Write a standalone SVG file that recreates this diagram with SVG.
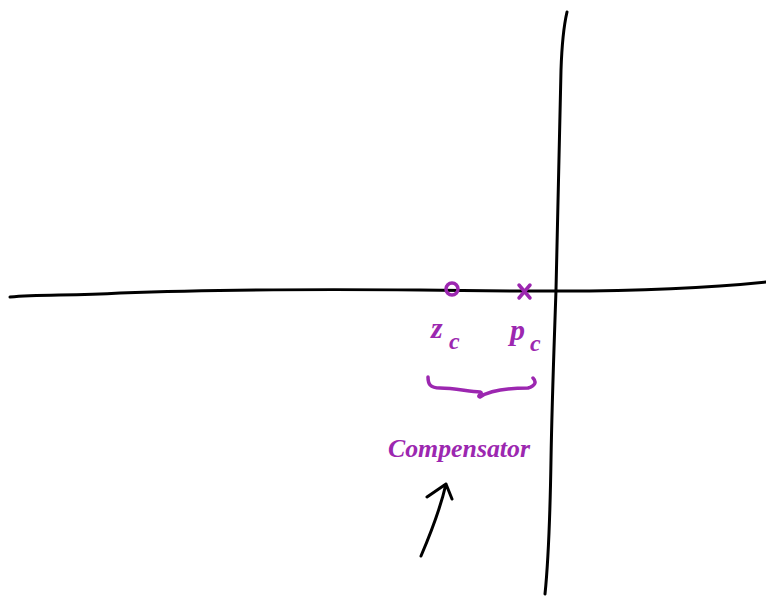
<svg xmlns="http://www.w3.org/2000/svg" width="766" height="596" viewBox="0 0 766 596">
<style>
.ink{fill:none;stroke:#000;stroke-width:3;stroke-linecap:round;stroke-linejoin:round}
.pu{fill:none;stroke:#9c27b0;stroke-width:3.5;stroke-linecap:round;stroke-linejoin:round}
.lbl{fill:#9c27b0;font-family:"Liberation Serif",serif;font-style:italic;font-weight:bold}
</style>
<rect width="766" height="596" fill="#fff"/>
<g id="axes">
<path class="ink" d="M10,297 C40,294 70,296 120,293 C200,290 300,289 420,290 C480,291 520,291 560,291 C640,291 700,289 766,282"/>
<path class="ink" d="M567,12 C564,25 562,40 561,70 C559,150 557,230 556,290 C554,350 552,400 551,460 C550,520 549,555 545,594"/>
</g>
<g id="zero">
<circle class="pu" cx="452" cy="289" r="6"/>
<text class="lbl" x="431" y="338" font-size="30">z</text>
<text class="lbl" x="449" y="349" font-size="24">c</text>
</g>
<g id="pole">
<path class="pu" d="M519,285 L530,298 M530,285 L519,298"/>
<text class="lbl" x="510" y="340" font-size="30">p</text>
<text class="lbl" x="530" y="351" font-size="24">c</text>
</g>
<g id="brace">
<path class="pu" d="M428,377 C428,384 430,388 440,388 C455,388 470,392 480,392 C484,393 476,396 480,397 C490,390 510,388 528,388 C535,386 537,382 533,378"/>
</g>
<g id="compensator">
<text class="lbl" x="388" y="457" font-size="26" textLength="142" lengthAdjust="spacingAndGlyphs">Compensator</text>
</g>
<g id="connectors">
<path class="ink" d="M421,556 C430,535 440,510 446,484 M427,497 L446,484 L452,499"/>
</g>
</svg>
